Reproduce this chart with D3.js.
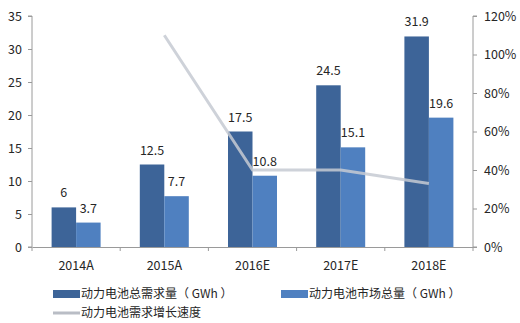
<!DOCTYPE html>
<html><head><meta charset="utf-8">
<script src="https://cdn.jsdelivr.net/npm/d3@7"></script>
<style>
html,body{margin:0;padding:0;background:#fff;}
text{font-family:"Noto Sans CJK SC","Noto Sans",sans-serif;fill:#262626;}
</style></head>
<body>
<svg id="chart" width="520" height="323"></svg>
<script>
const categories = ["2014A","2015A","2016E","2017E","2018E"];
const demandTotal = [6, 12.5, 17.5, 24.5, 31.9];
const marketTotal = [3.7, 7.7, 10.8, 15.1, 19.6];
const growthRate = [null, 1.10, 0.40, 0.40, 0.33];
const leftTicks = [0,5,10,15,20,25,30,35];
const rightTicks = [0,0.2,0.4,0.6,0.8,1.0,1.2];
const seriesNames = ["动力电池总需求量（ GWh ）","动力电池市场总量（ GWh ）","动力电池需求增长速度"];
const colors = ["#3d6498","#4f80c0","#b9bdc5"];

const svg = d3.select("#chart");
const L = 32, R = 473, T = 16, B = 247;
const x0 = d3.scaleBand().domain(categories).range([L, R]).padding(0);
const x1 = d3.scaleBand().domain([0,1]).range([0, x0.bandwidth()]).paddingInner(0).paddingOuter(0.8);
const yL = d3.scaleLinear().domain([0,35]).range([B, T]);
const yR = d3.scaleLinear().domain([0,1.2]).range([B, T]);

const seriesVals = [demandTotal, marketTotal];
seriesVals.forEach((vals, si) => {
  svg.append("g").selectAll("rect").data(vals).join("rect")
    .attr("x", (d,i) => x0(categories[i]) + x1(si))
    .attr("y", d => yL(d))
    .attr("width", x1.bandwidth())
    .attr("height", d => B - yL(d))
    .attr("fill", colors[si]);
});

const lineData = growthRate.map((v,i)=>({c:categories[i], v})).filter(d => d.v !== null);
svg.append("path").datum(lineData)
  .attr("fill","none").attr("stroke","#c6cad2").attr("stroke-opacity",0.85)
  .attr("stroke-width",3)
  .attr("d", d3.line().x(d => x0(d.c) + x0.bandwidth()/2).y(d => yR(d.v)));

seriesVals.forEach((vals, si) => {
  svg.append("g").selectAll("text").data(vals).join("text")
    .attr("x", (d,i) => x0(categories[i]) + x1(si) + x1.bandwidth()/2)
    .attr("y", d => yL(d) - 10)
    .attr("text-anchor","middle")
    .attr("font-size", 12.5)
    .text(d => d);
});

const axisColor = "#9a9a9a";
const gL = svg.append("g").attr("transform", `translate(${L},0)`)
  .call(d3.axisLeft(yL).tickValues(leftTicks).tickSize(4).tickPadding(6));
const gR = svg.append("g").attr("transform", `translate(${R},0)`)
  .call(d3.axisRight(yR).tickValues(rightTicks).tickSize(4).tickPadding(7).tickFormat(d3.format(".0%")));
const gX = svg.append("g").attr("transform", `translate(0,${B})`)
  .call(d3.axisBottom(x0).tickSize(0).tickPadding(14));
[gL, gR, gX].forEach(g => {
  g.select(".domain").attr("stroke", axisColor);
  g.selectAll(".tick line").attr("stroke", axisColor);
  g.selectAll(".tick text").attr("font-size", 12.5).attr("fill","#262626")
    .attr("font-family", '"Noto Sans CJK SC","Noto Sans",sans-serif');
});
gL.select(".domain").attr("d", `M-4,${T}H0V${B}H-4`);
gR.select(".domain").attr("d", `M4,${T}H0V${B}H4`);
svg.append("g").selectAll("line").data(d3.range(categories.length + 1)).join("line")
  .attr("x1", i => L + i * x0.step()).attr("x2", i => L + i * x0.step())
  .attr("y1", B).attr("y2", B + 4).attr("stroke", axisColor);

const leg = svg.append("g");
const legItems = [
  {x:53, y:294, type:"rect", c:colors[0], t:seriesNames[0]},
  {x:281, y:294, type:"rect", c:colors[1], t:seriesNames[1]},
  {x:53, y:313, type:"line", c:colors[2], t:seriesNames[2]}
];
legItems.forEach(it => {
  if (it.type === "rect") {
    leg.append("rect").attr("x", it.x).attr("y", it.y - 4).attr("width", 27).attr("height", 8).attr("fill", it.c);
  } else {
    leg.append("line").attr("x1", it.x).attr("x2", it.x + 27).attr("y1", it.y).attr("y2", it.y)
      .attr("stroke", it.c).attr("stroke-width", 3);
  }
  leg.append("text").attr("x", it.x + 28).attr("y", it.y).attr("dy","0.35em")
    .attr("font-size", 12).text(it.t);
});
</script>
</body></html>
